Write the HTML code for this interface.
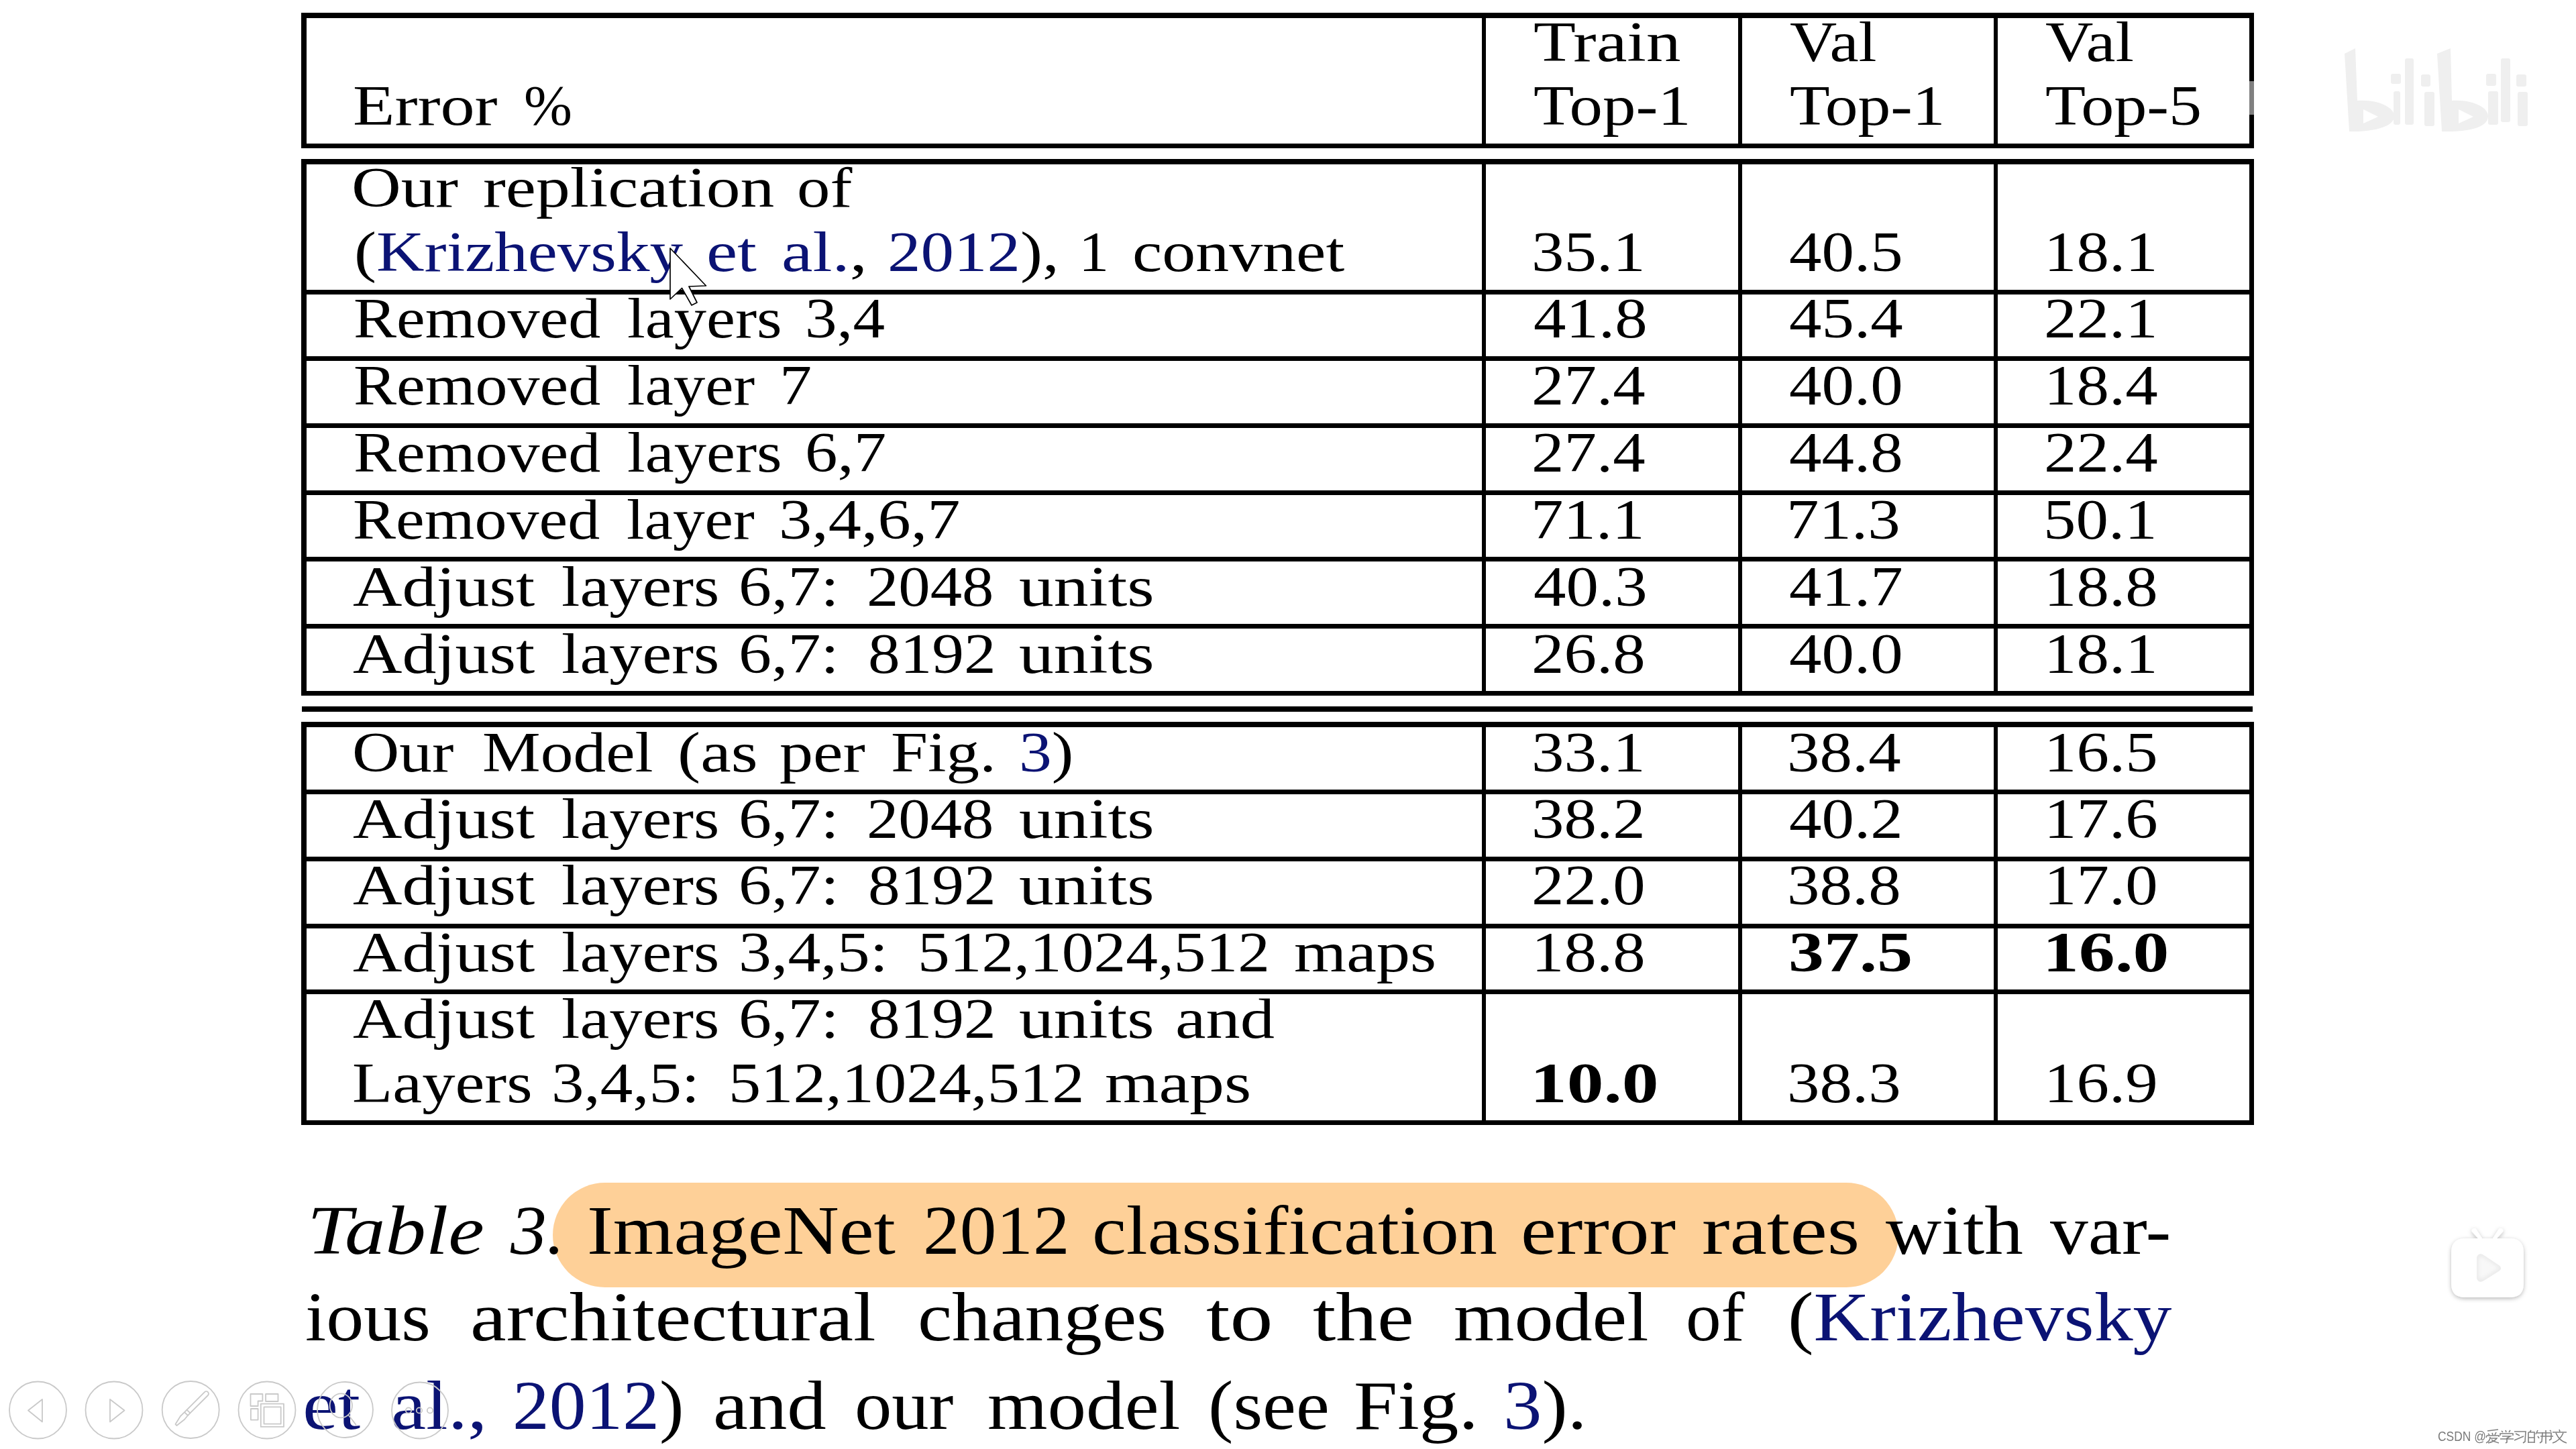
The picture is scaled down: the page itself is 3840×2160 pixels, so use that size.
<!DOCTYPE html>
<html><head><meta charset="utf-8"><title>Table 3</title>
<style>
html,body{margin:0;padding:0;background:#fff}
body{width:3840px;height:2160px;position:relative;overflow:hidden}
.ln{position:absolute;background:#000}
.t{position:absolute;white-space:pre;line-height:1;transform-origin:0 0;font-family:"Liberation Serif",serif;font-size:85px;color:#000}
.t.c{font-size:104px}
.b{font-weight:bold}
.bl{color:#0b1374}
.hl{position:absolute;left:824px;top:1763px;width:2006px;height:156px;border-radius:78px;background:#fed098}
</style></head><body>
<div class="hl"></div>
<div class="ln" style="left:450px;top:19px;width:2908px;height:8px"></div>
<div class="ln" style="left:450px;top:214px;width:2908px;height:7px"></div>
<div class="ln" style="left:450px;top:237px;width:2908px;height:8px"></div>
<div class="ln" style="left:450px;top:432px;width:2908px;height:7px"></div>
<div class="ln" style="left:450px;top:531px;width:2908px;height:7px"></div>
<div class="ln" style="left:450px;top:631px;width:2908px;height:7px"></div>
<div class="ln" style="left:450px;top:731px;width:2908px;height:7px"></div>
<div class="ln" style="left:450px;top:830px;width:2908px;height:7px"></div>
<div class="ln" style="left:450px;top:930px;width:2908px;height:7px"></div>
<div class="ln" style="left:450px;top:1030px;width:2908px;height:7px"></div>
<div class="ln" style="left:450px;top:1053px;width:2908px;height:8px"></div>
<div class="ln" style="left:450px;top:1076px;width:2908px;height:8px"></div>
<div class="ln" style="left:450px;top:1177px;width:2908px;height:7px"></div>
<div class="ln" style="left:450px;top:1277px;width:2908px;height:7px"></div>
<div class="ln" style="left:450px;top:1377px;width:2908px;height:7px"></div>
<div class="ln" style="left:450px;top:1475px;width:2908px;height:7px"></div>
<div class="ln" style="left:450px;top:1670px;width:2908px;height:7px"></div>
<div class="ln" style="left:449px;top:19px;width:8px;height:202px"></div>
<div class="ln" style="left:449px;top:237px;width:8px;height:800px"></div>
<div class="ln" style="left:449px;top:1076px;width:8px;height:601px"></div>
<div class="ln" style="left:2209px;top:19px;width:6px;height:202px"></div>
<div class="ln" style="left:2209px;top:237px;width:6px;height:800px"></div>
<div class="ln" style="left:2209px;top:1076px;width:6px;height:601px"></div>
<div class="ln" style="left:2591px;top:19px;width:6px;height:202px"></div>
<div class="ln" style="left:2591px;top:237px;width:6px;height:800px"></div>
<div class="ln" style="left:2591px;top:1076px;width:6px;height:601px"></div>
<div class="ln" style="left:2972px;top:19px;width:6px;height:202px"></div>
<div class="ln" style="left:2972px;top:237px;width:6px;height:800px"></div>
<div class="ln" style="left:2972px;top:1076px;width:6px;height:601px"></div>
<div class="ln" style="left:3353px;top:19px;width:7px;height:202px"></div>
<div class="ln" style="left:3353px;top:237px;width:7px;height:800px"></div>
<div class="ln" style="left:3353px;top:1076px;width:7px;height:601px"></div>
<div class="t" style="left:2285.8px;top:20.4px;transform:scaleX(1.2123)">Train</div>
<div class="t" style="left:2285.8px;top:115.0px;transform:scaleX(1.1633)">Top-1</div>
<div class="t" style="left:2667.9px;top:20.0px;transform:scaleX(1.1441)">Val</div>
<div class="t" style="left:2667.9px;top:115.0px;transform:scaleX(1.1480)">Top-1</div>
<div class="t" style="left:3049.3px;top:20.0px;transform:scaleX(1.1640)">Val</div>
<div class="t" style="left:3049.3px;top:115.0px;transform:scaleX(1.1556)">Top-5</div>
<div class="t" style="left:525.6px;top:115.3px;transform:scaleX(1.2017)">Error</div>
<div class="t" style="left:781.0px;top:115.3px;transform:scaleX(1.0154)">%</div>
<div class="t" style="left:524.4px;top:237.3px;transform:scaleX(1.2031)">Our</div>
<div class="t" style="left:719.6px;top:237.3px;transform:scaleX(1.1950)">replication</div>
<div class="t" style="left:1187.5px;top:237.3px;transform:scaleX(1.1618)">of</div>
<div class="t" style="left:527.9px;top:332.5px;transform:scaleX(1.1663)">(<span class="bl">Krizhevsky</span></div>
<div class="t" style="left:1052.6px;top:332.5px;transform:scaleX(1.2224)"><span class="bl">et</span></div>
<div class="t" style="left:1165.3px;top:332.5px;transform:scaleX(1.2316)"><span class="bl">al.</span>,</div>
<div class="t" style="left:1323.3px;top:332.5px;transform:scaleX(1.1652)"><span class="bl">2012</span>),</div>
<div class="t" style="left:1607.5px;top:332.5px;transform:scaleX(1.0645)">1</div>
<div class="t" style="left:1687.5px;top:332.5px;transform:scaleX(1.1752)">convnet</div>
<div class="t" style="left:527.4px;top:432.4px;transform:scaleX(1.1303)">Removed</div>
<div class="t" style="left:934.5px;top:432.4px;transform:scaleX(1.1364)">layers</div>
<div class="t" style="left:1199.8px;top:432.4px;transform:scaleX(1.1198)">3,4</div>
<div class="t" style="left:527.4px;top:531.5px;transform:scaleX(1.1303)">Removed</div>
<div class="t" style="left:934.6px;top:531.5px;transform:scaleX(1.1192)">layer</div>
<div class="t" style="left:1161.9px;top:531.5px;transform:scaleX(1.1314)">7</div>
<div class="t" style="left:527.4px;top:631.5px;transform:scaleX(1.1303)">Removed</div>
<div class="t" style="left:934.5px;top:631.5px;transform:scaleX(1.1364)">layers</div>
<div class="t" style="left:1199.7px;top:631.5px;transform:scaleX(1.1410)">6,7</div>
<div class="t" style="left:526.2px;top:732.0px;transform:scaleX(1.1303)">Removed</div>
<div class="t" style="left:934.3px;top:732.0px;transform:scaleX(1.1228)">layer</div>
<div class="t" style="left:1161.4px;top:732.0px;transform:scaleX(1.1568)">3,4,6,7</div>
<div class="t" style="left:526.1px;top:831.6px;transform:scaleX(1.1964)">Adjust</div>
<div class="t" style="left:837.1px;top:831.6px;transform:scaleX(1.1596)">layers</div>
<div class="t" style="left:1101.0px;top:831.6px;transform:scaleX(1.1521)">6,7:</div>
<div class="t" style="left:1292.4px;top:831.6px;transform:scaleX(1.1147)">2048</div>
<div class="t" style="left:1519.0px;top:831.6px;transform:scaleX(1.2193)">units</div>
<div class="t" style="left:526.1px;top:931.5px;transform:scaleX(1.1964)">Adjust</div>
<div class="t" style="left:837.1px;top:931.5px;transform:scaleX(1.1596)">layers</div>
<div class="t" style="left:1101.0px;top:931.5px;transform:scaleX(1.1521)">6,7:</div>
<div class="t" style="left:1293.5px;top:931.5px;transform:scaleX(1.1216)">8192</div>
<div class="t" style="left:1519.0px;top:931.5px;transform:scaleX(1.2193)">units</div>
<div class="t" style="left:524.9px;top:1078.6px;transform:scaleX(1.1450)">Our</div>
<div class="t" style="left:719.4px;top:1078.6px;transform:scaleX(1.1468)">Model</div>
<div class="t" style="left:1010.2px;top:1078.6px;transform:scaleX(1.2065)">(as</div>
<div class="t" style="left:1161.8px;top:1078.6px;transform:scaleX(1.1776)">per</div>
<div class="t" style="left:1327.7px;top:1078.6px;transform:scaleX(1.1654)">Fig.</div>
<div class="t" style="left:1519.4px;top:1078.6px;transform:scaleX(1.1492)"><span class="bl">3</span>)</div>
<div class="t" style="left:526.1px;top:1178.4px;transform:scaleX(1.1964)">Adjust</div>
<div class="t" style="left:837.1px;top:1178.4px;transform:scaleX(1.1596)">layers</div>
<div class="t" style="left:1101.0px;top:1178.4px;transform:scaleX(1.1521)">6,7:</div>
<div class="t" style="left:1292.4px;top:1178.4px;transform:scaleX(1.1147)">2048</div>
<div class="t" style="left:1519.0px;top:1178.4px;transform:scaleX(1.2193)">units</div>
<div class="t" style="left:526.1px;top:1276.8px;transform:scaleX(1.1964)">Adjust</div>
<div class="t" style="left:837.1px;top:1276.8px;transform:scaleX(1.1596)">layers</div>
<div class="t" style="left:1101.0px;top:1276.8px;transform:scaleX(1.1521)">6,7:</div>
<div class="t" style="left:1293.5px;top:1276.8px;transform:scaleX(1.1216)">8192</div>
<div class="t" style="left:1519.0px;top:1276.8px;transform:scaleX(1.2193)">units</div>
<div class="t" style="left:526.1px;top:1377.0px;transform:scaleX(1.1964)">Adjust</div>
<div class="t" style="left:837.1px;top:1377.0px;transform:scaleX(1.1596)">layers</div>
<div class="t" style="left:1101.0px;top:1377.0px;transform:scaleX(1.1514)">3,4,5:</div>
<div class="t" style="left:1368.4px;top:1377.0px;transform:scaleX(1.1229)">512,1024,512</div>
<div class="t" style="left:1929.2px;top:1377.0px;transform:scaleX(1.1822)">maps</div>
<div class="t" style="left:526.1px;top:1475.5px;transform:scaleX(1.1964)">Adjust</div>
<div class="t" style="left:837.1px;top:1475.5px;transform:scaleX(1.1596)">layers</div>
<div class="t" style="left:1101.0px;top:1475.5px;transform:scaleX(1.1521)">6,7:</div>
<div class="t" style="left:1293.5px;top:1475.5px;transform:scaleX(1.1216)">8192</div>
<div class="t" style="left:1519.0px;top:1475.5px;transform:scaleX(1.2193)">units</div>
<div class="t" style="left:1752.4px;top:1475.5px;transform:scaleX(1.2050)">and</div>
<div class="t" style="left:524.5px;top:1572.0px;transform:scaleX(1.1615)">Layers</div>
<div class="t" style="left:822.2px;top:1572.0px;transform:scaleX(1.1415)">3,4,5:</div>
<div class="t" style="left:1086.3px;top:1572.0px;transform:scaleX(1.1345)">512,1024,512</div>
<div class="t" style="left:1646.6px;top:1572.0px;transform:scaleX(1.2167)">maps</div>
<div class="t" style="left:2283.4px;top:332.5px;transform:scaleX(1.1400)">35.1</div>
<div class="t" style="left:2666.7px;top:332.5px;transform:scaleX(1.1400)">40.5</div>
<div class="t" style="left:3046.5px;top:332.5px;transform:scaleX(1.1400)">18.1</div>
<div class="t" style="left:2285.7px;top:432.4px;transform:scaleX(1.1400)">41.8</div>
<div class="t" style="left:2666.7px;top:432.4px;transform:scaleX(1.1400)">45.4</div>
<div class="t" style="left:3047.4px;top:432.4px;transform:scaleX(1.1400)">22.1</div>
<div class="t" style="left:2283.4px;top:531.5px;transform:scaleX(1.1400)">27.4</div>
<div class="t" style="left:2666.7px;top:531.5px;transform:scaleX(1.1400)">40.0</div>
<div class="t" style="left:3046.5px;top:531.5px;transform:scaleX(1.1400)">18.4</div>
<div class="t" style="left:2283.4px;top:631.5px;transform:scaleX(1.1400)">27.4</div>
<div class="t" style="left:2666.7px;top:631.5px;transform:scaleX(1.1400)">44.8</div>
<div class="t" style="left:3047.4px;top:631.5px;transform:scaleX(1.1400)">22.4</div>
<div class="t" style="left:2282.3px;top:732.0px;transform:scaleX(1.1400)">71.1</div>
<div class="t" style="left:2663.3px;top:732.0px;transform:scaleX(1.1400)">71.3</div>
<div class="t" style="left:3046.3px;top:732.0px;transform:scaleX(1.1400)">50.1</div>
<div class="t" style="left:2285.7px;top:831.6px;transform:scaleX(1.1400)">40.3</div>
<div class="t" style="left:2666.7px;top:831.6px;transform:scaleX(1.1400)">41.7</div>
<div class="t" style="left:3046.5px;top:831.6px;transform:scaleX(1.1400)">18.8</div>
<div class="t" style="left:2283.4px;top:931.5px;transform:scaleX(1.1400)">26.8</div>
<div class="t" style="left:2666.7px;top:931.5px;transform:scaleX(1.1400)">40.0</div>
<div class="t" style="left:3046.5px;top:931.5px;transform:scaleX(1.1400)">18.1</div>
<div class="t" style="left:2283.4px;top:1078.6px;transform:scaleX(1.1400)">33.1</div>
<div class="t" style="left:2664.4px;top:1078.6px;transform:scaleX(1.1400)">38.4</div>
<div class="t" style="left:3046.5px;top:1078.6px;transform:scaleX(1.1400)">16.5</div>
<div class="t" style="left:2283.4px;top:1178.4px;transform:scaleX(1.1400)">38.2</div>
<div class="t" style="left:2666.7px;top:1178.4px;transform:scaleX(1.1400)">40.2</div>
<div class="t" style="left:3046.5px;top:1178.4px;transform:scaleX(1.1400)">17.6</div>
<div class="t" style="left:2283.4px;top:1276.8px;transform:scaleX(1.1400)">22.0</div>
<div class="t" style="left:2664.4px;top:1276.8px;transform:scaleX(1.1400)">38.8</div>
<div class="t" style="left:3046.5px;top:1276.8px;transform:scaleX(1.1400)">17.0</div>
<div class="t" style="left:2282.5px;top:1377.0px;transform:scaleX(1.1400)">18.8</div>
<div class="t b" style="left:2666.3px;top:1377.0px;transform:scaleX(1.2448)">37.5</div>
<div class="t b" style="left:3045.1px;top:1377.0px;transform:scaleX(1.2662)">16.0</div>
<div class="t b" style="left:2281.0px;top:1572.0px;transform:scaleX(1.2878)">10.0</div>
<div class="t" style="left:2664.4px;top:1572.0px;transform:scaleX(1.1400)">38.3</div>
<div class="t" style="left:3046.5px;top:1572.0px;transform:scaleX(1.1400)">16.9</div>
<div class="t c" style="left:458.3px;top:1782.0px;transform:scaleX(1.1610)"><i>Table</i></div>
<div class="t c" style="left:761.4px;top:1782.0px;transform:scaleX(1.0348)"><i>3.</i></div>
<div class="t c" style="left:874.8px;top:1782.0px;transform:scaleX(1.1217)">ImageNet</div>
<div class="t c" style="left:1375.8px;top:1782.0px;transform:scaleX(1.0505)">2012</div>
<div class="t c" style="left:1628.4px;top:1782.0px;transform:scaleX(1.1009)">classification</div>
<div class="t c" style="left:2267.0px;top:1782.0px;transform:scaleX(1.1431)">error</div>
<div class="t c" style="left:2537.1px;top:1782.0px;transform:scaleX(1.1990)">rates</div>
<div class="t c" style="left:2811.2px;top:1782.0px;transform:scaleX(1.1076)">with</div>
<div class="t c" style="left:3055.8px;top:1782.0px;transform:scaleX(1.0907)">var-</div>
<div class="t c" style="left:454.8px;top:1911.0px;transform:scaleX(1.0774)">ious</div>
<div class="t c" style="left:701.3px;top:1911.0px;transform:scaleX(1.1634)">architectural</div>
<div class="t c" style="left:1367.6px;top:1911.0px;transform:scaleX(1.1070)">changes</div>
<div class="t c" style="left:1797.8px;top:1911.0px;transform:scaleX(1.2303)">to</div>
<div class="t c" style="left:1956.8px;top:1911.0px;transform:scaleX(1.1870)">the</div>
<div class="t c" style="left:2166.8px;top:1911.0px;transform:scaleX(1.1172)">model</div>
<div class="t c" style="left:2513.0px;top:1911.0px;transform:scaleX(1.0120)">of</div>
<div class="t c" style="left:2664.5px;top:1911.0px;transform:scaleX(1.1137)">(<span class="bl">Krizhevsky</span></div>
<div class="t c" style="left:450.9px;top:2043.0px;transform:scaleX(1.1479)"><span class="bl">et</span></div>
<div class="t c" style="left:583.0px;top:2043.0px;transform:scaleX(1.1282)"><span class="bl">al.,</span></div>
<div class="t c" style="left:763.8px;top:2043.0px;transform:scaleX(1.0534)"><span class="bl">2012</span>)</div>
<div class="t c" style="left:1062.5px;top:2043.0px;transform:scaleX(1.1241)">and</div>
<div class="t c" style="left:1274.2px;top:2043.0px;transform:scaleX(1.0634)">our</div>
<div class="t c" style="left:1471.6px;top:2043.0px;transform:scaleX(1.1063)">model</div>
<div class="t c" style="left:1801.4px;top:2043.0px;transform:scaleX(1.0794)">(see</div>
<div class="t c" style="left:2017.6px;top:2043.0px;transform:scaleX(1.1277)">Fig.</div>
<div class="t c" style="left:2240.8px;top:2043.0px;transform:scaleX(1.1059)"><span class="bl">3</span>).</div>

<svg style="position:absolute;left:0;top:0" width="3840" height="2160" viewBox="0 0 3840 2160">
 <!-- bilibili watermark -->
 <g fill="#efefef">
  <path d="M3495,80 L3511,72 L3514,150 C3545,148 3570,160 3569,174 C3568,190 3535,197 3502,196 Z"/>
  <rect x="3564" y="110" width="15" height="15" rx="3"/>
  <rect x="3568" y="136" width="10" height="50" rx="3"/>
  <rect x="3585" y="87" width="13" height="99" rx="3"/>
  <rect x="3609" y="111" width="14" height="18" rx="3"/>
  <rect x="3614" y="137" width="15" height="51" rx="3"/>
  <path d="M3633,80 L3653,72 L3655,150 C3685,148 3710,160 3709,174 C3708,190 3680,197 3640,196 Z"/>
  <rect x="3706" y="110" width="15" height="18" rx="3"/>
  <rect x="3709" y="136" width="15" height="50" rx="3"/>
  <rect x="3728" y="87" width="14" height="95" rx="3"/>
  <rect x="3751" y="111" width="15" height="18" rx="3"/>
  <rect x="3753" y="137" width="15" height="51" rx="3"/>
 </g>
 <g fill="#fff">
  <path d="M3523,163 L3545,174 L3523,184 Z"/>
  <path d="M3665,163 L3687,174 L3665,184 Z"/>
 </g>
 <rect x="3351" y="121" width="11" height="50" fill="#fff" fill-opacity="0.5"/>
 <!-- mouse cursor -->
 <path d="M999,370 L999,446 L1016.5,429.5 L1031,455 L1039,451 L1027,427 L1052.5,426 Z" fill="#fff" stroke="#000" stroke-width="1.7" stroke-linejoin="round"/>
 <!-- slideshow controls -->
 <g fill="none" stroke="#c9c9c9" stroke-width="1.8" stroke-linejoin="round">
  <circle cx="56.5" cy="2102" r="42.5"/>
  <circle cx="170" cy="2102" r="42.5"/>
  <circle cx="284.2" cy="2101.5" r="42.5"/>
  <circle cx="398" cy="2102" r="42.5"/>
  <circle cx="514.5" cy="2101.5" r="41.5"/>
  <circle cx="626" cy="2102.5" r="42"/>
  <path d="M63,2086 L42,2102.5 L63,2119.5 Z"/>
  <path d="M164,2086 L185.5,2102.5 L164,2119.5 Z"/>
  <path d="M310,2080 L283.5,2106.4 L278.5,2101.6 L305,2075.1 A3.5,3.5 0 0 1 310,2080 Z"/>
  <path d="M283.5,2106.4 L280,2110 L275,2105.2 L278.5,2101.6"/>
  <path d="M280,2110 L275,2116 L263.5,2125 L261.5,2123 L269,2111 L275,2105.2"/>
  <path d="M373.5,2096 L373.5,2078 L391.4,2078 L391.4,2088.5 L384.6,2088.5 L384.6,2096 Z"/>
  <rect x="396.1" y="2078" width="18.4" height="11"/>
  <rect x="373.9" y="2100" width="10.7" height="16.6"/>
  <rect x="388.8" y="2092.7" width="34.2" height="34.2"/>
  <rect x="393.5" y="2097.4" width="25.2" height="25.2"/>
  <ellipse cx="508.3" cy="2095.3" rx="16.7" ry="18"/>
  <path d="M519.8,2109.8 L530.9,2124.3"/>
  <circle cx="609" cy="2102.5" r="4.2"/>
  <circle cx="625" cy="2102.5" r="4.2"/>
  <circle cx="641" cy="2102.5" r="4.2"/>
 </g>
 <!-- bilibili tv icon -->
 <defs>
  <filter id="sh" x="-30%" y="-30%" width="160%" height="160%">
   <feDropShadow dx="0" dy="2" stdDeviation="3" flood-color="#000" flood-opacity="0.28"/>
  </filter>
  <filter id="ish" x="-30%" y="-30%" width="160%" height="160%">
   <feGaussianBlur stdDeviation="2.5"/>
  </filter>
 </defs>
 <g filter="url(#sh)" fill="#fff">
  <path d="M3654,1868 C3654,1853 3661,1846 3676,1846 L3740,1846 C3755,1846 3762,1853 3762,1868 L3762,1912 C3762,1928 3755,1934 3740,1934 L3676,1934 C3661,1934 3654,1928 3654,1912 Z"/>
  <path d="M3685,1836 C3683,1833 3688,1829 3691,1832 L3700,1846 L3694,1846 Z"/>
  <path d="M3731,1836 C3733,1833 3728,1829 3725,1832 L3716,1846 L3722,1846 Z"/>
 </g>
 <path d="M3692,1876 C3692,1870 3697,1868 3701,1870 L3725,1886 C3729,1889 3729,1892 3725,1895 L3701,1910 C3697,1912 3692,1910 3692,1904 Z" fill="#ececec"/>
 <path d="M3695,1879 C3695,1874 3699,1873 3702,1875 L3721,1887 C3724,1889 3724,1891 3721,1893 L3702,1905 C3699,1907 3695,1906 3695,1901 Z" fill="#f8f8f8" filter="url(#ish)"/>
</svg>
<div style="position:absolute;left:3634px;top:2130.5px;font:20px 'Liberation Sans',sans-serif;color:#7a7a7a;white-space:pre;line-height:1;transform:scaleX(0.87);transform-origin:0 0">CSDN @</div>
<svg style="position:absolute;left:0;top:0" width="3840" height="2160" viewBox="0 0 3840 2160">
 <g fill="none" stroke="#808080" stroke-width="1.6">
  <!-- 爱 -->
  <path d="M3708,2133 L3724,2131 M3709,2137 L3711,2139 M3715,2136 L3716,2139 M3721,2135 L3719,2139 M3707,2140 L3725,2140 L3725,2142 M3707,2140 L3706,2143 M3712,2142 C3712,2146 3710,2149 3706,2151 M3711,2144 L3722,2144 C3719,2148 3714,2150 3709,2151 M3714,2146 C3717,2149 3721,2150 3725,2151"/>
  <!-- 学 -->
  <path transform="translate(-1,0)" d="M3730,2133 L3732,2135 M3736,2132 L3737,2135 M3743,2132 L3741,2135 M3728,2140 L3728,2137 L3747,2137 L3747,2140 M3731,2141 L3743,2141 L3738,2144 L3738,2150 L3736,2151 M3728,2145 L3748,2145"/>
  <!-- 习 -->
  <path transform="translate(-4,0)" d="M3752,2134 L3769,2134 L3768,2149 L3765,2151 M3754,2137 L3760,2140 M3752,2147 L3766,2141"/>
  <!-- 的 -->
  <path transform="translate(-4,0)" d="M3777,2132 L3775,2135 M3773,2135 L3782,2135 L3782,2151 M3773,2135 L3773,2151 M3773,2143 L3782,2143 M3773,2150 L3782,2150 M3787,2132 L3784,2138 M3786,2136 L3794,2136 L3793,2149 L3790,2151 M3787,2141 L3789,2144"/>
  <!-- 书 -->
  <path transform="translate(-10,0)" d="M3799,2136 L3813,2136 L3813,2145 L3810,2147 M3797,2141 L3816,2141 M3805,2132 L3805,2152 M3811,2132 L3813,2134"/>
  <!-- 文 -->
  <path transform="translate(-13,0)" d="M3828,2131 L3829,2134 M3818,2135 L3839,2135 M3823,2136 C3826,2143 3832,2149 3839,2151 M3834,2136 C3831,2143 3825,2149 3818,2151"/>
 </g>
</svg>
</body></html>
